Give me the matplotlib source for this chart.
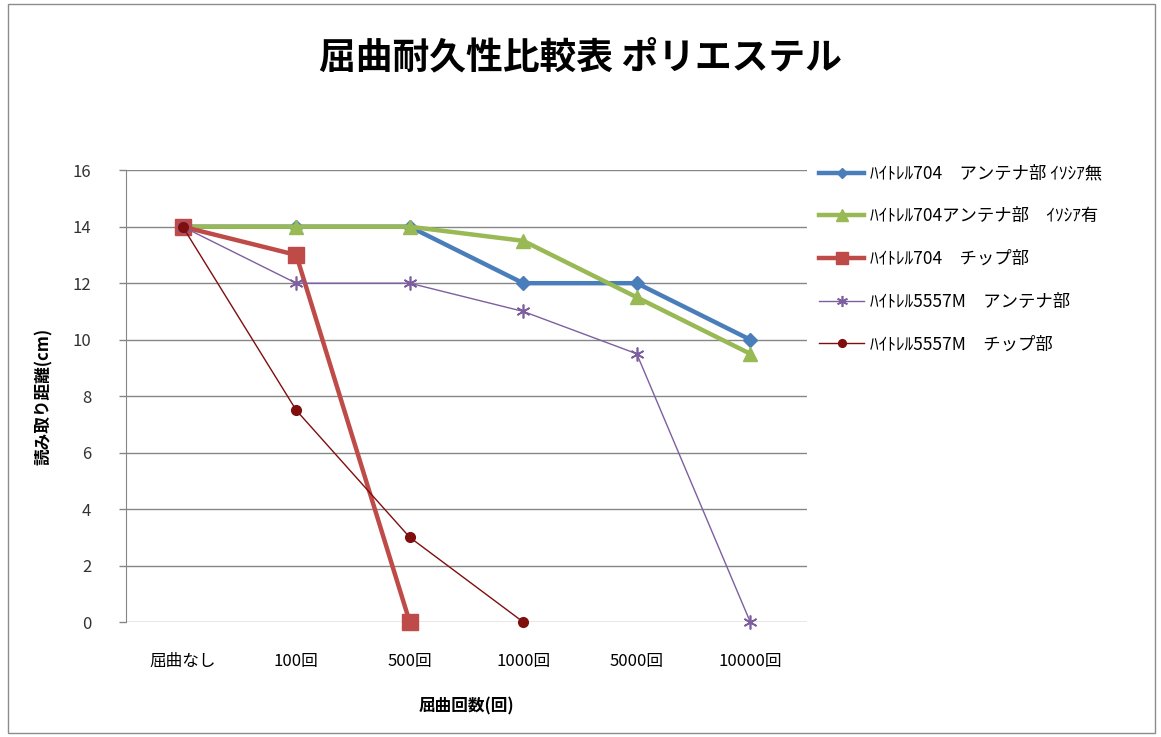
import numpy as np
import matplotlib.pyplot as plt
from matplotlib.patches import Rectangle

plt.rcParams['font.family'] = ['Noto Sans CJK JP', 'DejaVu Sans']

## Data ##
categories = ['屈曲なし', '100回', '500回', '1000回', '5000回', '10000回']

s704_ant_nashi = [14, 14, 14, 12, 12, 10]
s704_ant_ari = [14, 14, 14, 13.5, 11.5, 9.5]
s704_chip = [14, 13, 0]
s5557_ant = [14, 12, 12, 11, 9.5, 0]
s5557_chip = [14, 7.5, 3, 0]

labels = ['ﾊｲﾄﾚﾙ704　アンテナ部 ｲｿｼｱ無',
          'ﾊｲﾄﾚﾙ704アンテナ部　ｲｿｼｱ有',
          'ﾊｲﾄﾚﾙ704　チップ部',
          'ﾊｲﾄﾚﾙ5557M　アンテナ部',
          'ﾊｲﾄﾚﾙ5557M　チップ部']

fig = plt.figure(figsize=(11.61, 7.37), dpi=100)
fig.patches.append(Rectangle((0.007, 0.005), 0.988, 0.99, transform=fig.transFigure,
                             fill=False, edgecolor='#8c8c8c', linewidth=1))
ax = fig.add_axes([0.1085, 0.156, 0.5866, 0.613])

x = np.arange(len(categories))
ax.plot(x[:len(s704_ant_nashi)], s704_ant_nashi, color='#4a7ebb', lw=3.2,
        marker='D', ms=7, label=labels[0])
ax.plot(x[:len(s704_ant_ari)], s704_ant_ari, color='#98b954', lw=3.2,
        marker='^', ms=10, label=labels[1])
ax.plot(x[:len(s704_chip)], s704_chip, color='#be4b48', lw=3.2,
        marker='s', ms=11, label=labels[2])
ax.plot(x[:len(s5557_ant)], s5557_ant, color='#7d5fa0', lw=1.0,
        marker=(6, 2, 0), ms=10, mew=1.2, label=labels[3])
ax.plot(x[:len(s5557_chip)], s5557_chip, color='#7f0e0e', lw=1.0,
        marker='o', ms=7, label=labels[4])

ax.set_xlim(-0.5, len(categories) - 0.5)
ax.set_ylim(0, 16)
ax.set_yticks(range(0, 17, 2))
ax.set_xticks(x)
ax.set_xticklabels(categories, fontsize=12)
ax.tick_params(axis='y', labelsize=12, length=5, width=1, color='#868686',
               pad=20, labelcolor='#333333')
ax.tick_params(axis='x', length=0, pad=22)
ax.yaxis.grid(True, color='#868686', lw=1)
ax.set_axisbelow(True)
for side in ['top', 'right', 'bottom']:
    ax.spines[side].set_visible(False)
ax.spines['left'].set_color('#868686')
for ln in ax.lines:
    ln.set_clip_on(False)

ax.set_xlabel('屈曲回数(回)', fontsize=12, fontweight='bold', labelpad=20)
ax.set_ylabel('読み取り距離(cm)', fontsize=12, fontweight='bold', labelpad=14)

fig.text(0.5, 0.922, '屈曲耐久性比較表 ポリエステル', fontsize=26.5, fontweight='bold',
         ha='center', va='center')

ax.legend(loc='upper left', bbox_to_anchor=(0.995, 1.047), frameon=False,
          fontsize=12.5, labelspacing=1.42, handlelength=2.6, handletextpad=0.3,
          markerscale=0.8)

fig.savefig('out.png', dpi=100)
